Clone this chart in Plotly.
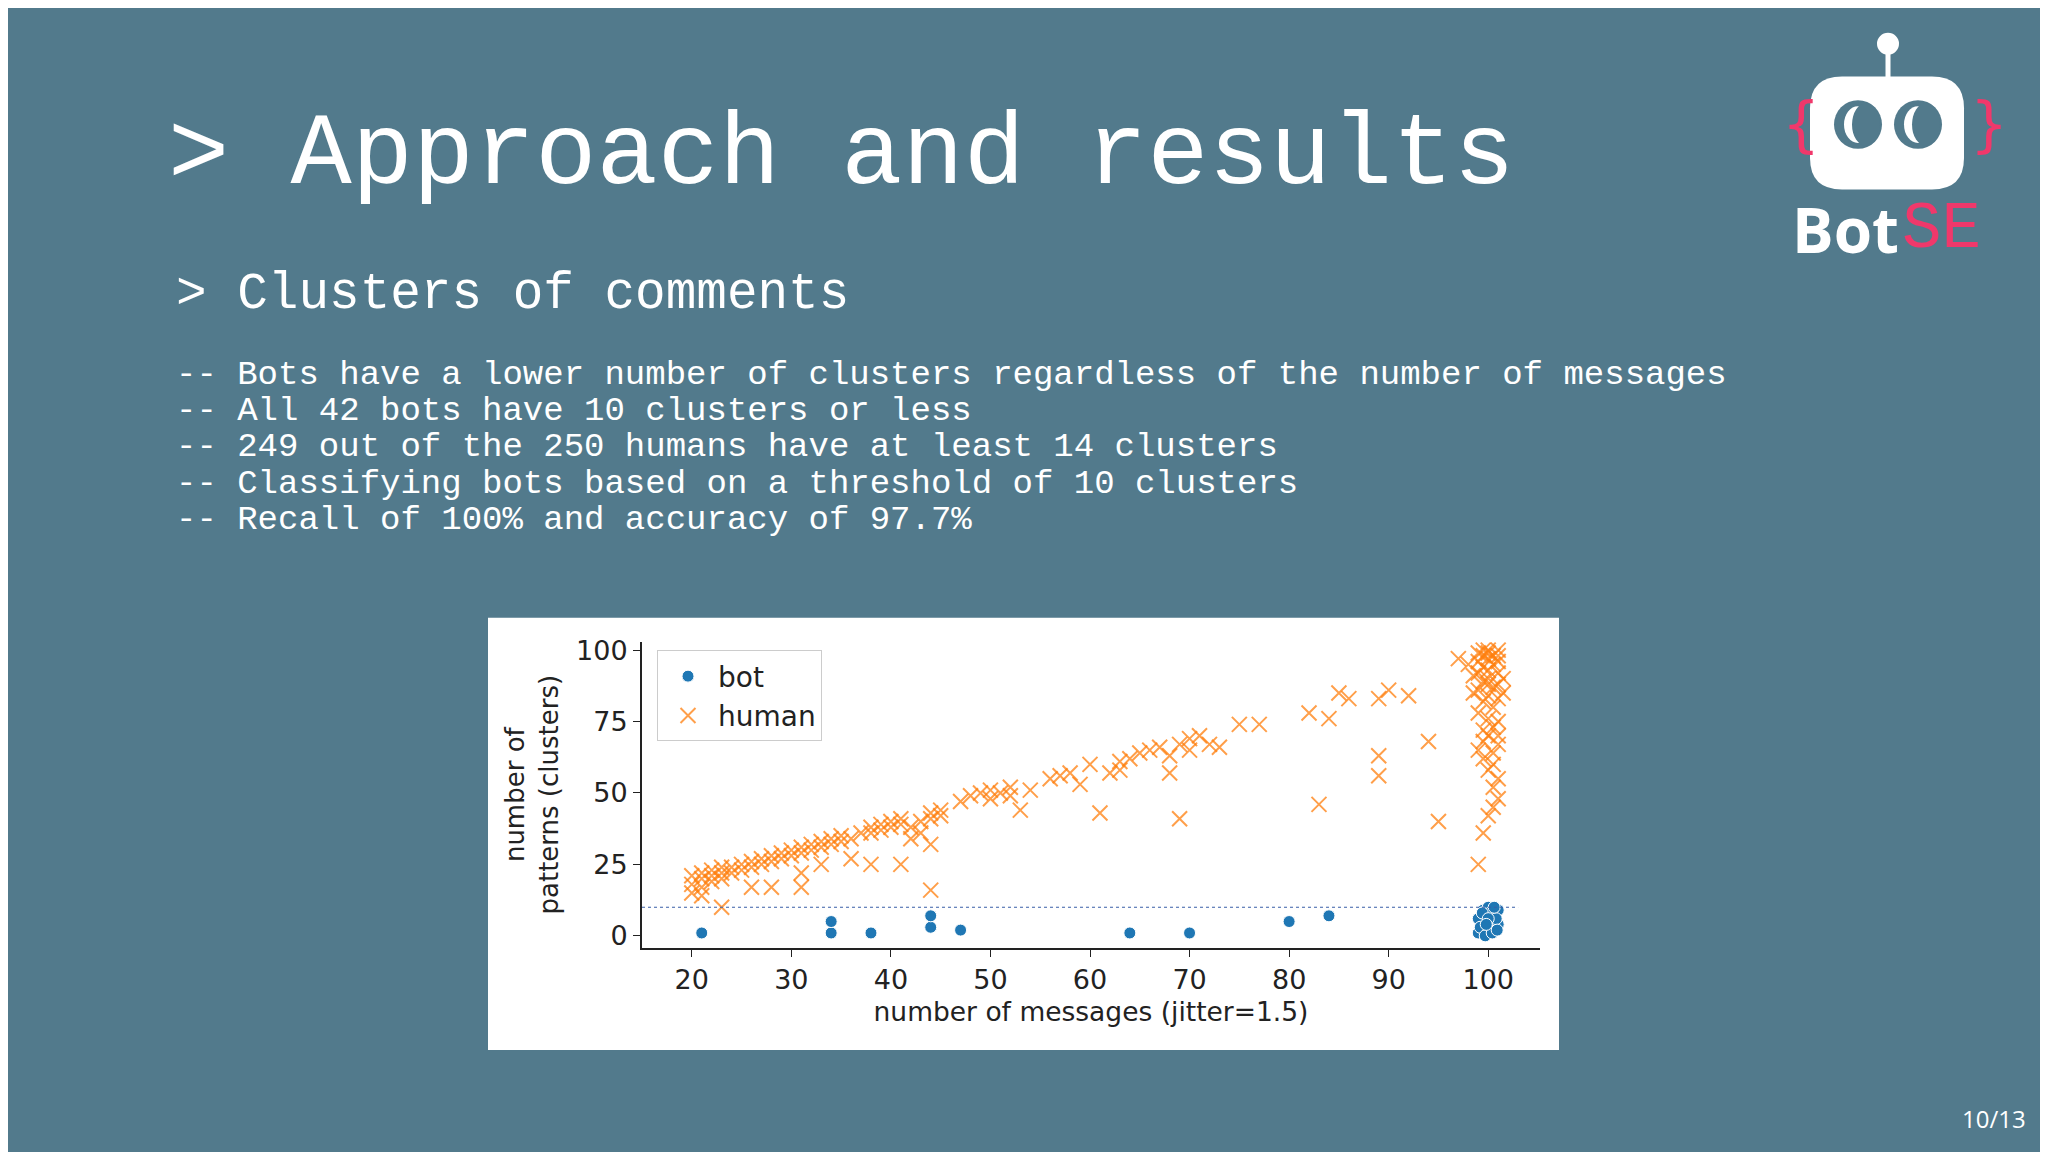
import plotly.graph_objects as go

W, H = 2048, 1152
BG = "#527a8c"
OFF = 8  # page body offset compensation

bot_x = [21, 34, 34, 38, 44, 44, 47, 64, 70, 80, 84,
         99, 99.5, 100, 100.5, 101, 99, 99.5, 100, 100.5, 101, 99.2, 100.2, 100.8, 99.7, 100.4, 99.4, 100.9, 100, 99.8, 100.6]
bot_y = [1, 1, 5, 1, 3, 7, 2, 1, 1, 5, 7,
         1, 3, 5, 7, 9, 6, 9, 10, 2, 4, 3, 8, 6, 0, 1, 8, 2, 6, 4, 10]

human_x = [20, 20, 20, 21, 21, 21, 22, 22, 22, 23, 23, 23, 24, 24, 25, 25, 26, 26, 27, 27, 28, 28, 29, 29, 30, 30,
           31, 31, 32, 32, 33, 33, 34, 34, 35, 35, 36, 37, 38, 38, 39, 39, 40, 40, 41, 41, 42, 43, 44, 44, 45, 45,
           21, 23, 26, 28, 31, 31, 33, 36, 38, 41, 43, 44, 44, 42,
           47, 48, 49, 50, 50, 51, 52, 52, 53, 54, 56, 57, 58, 59, 60, 61, 62, 63, 63, 64, 65, 66, 67, 68, 68, 69,
           69, 70, 70, 71, 72, 73, 75, 77, 82, 84, 83, 85, 86, 89, 89, 89, 90, 92, 94, 95, 97,
           99, 99.5, 100, 100.5, 101, 100.5, 101, 100, 99.5, 100.5, 99, 101, 100, 99.5, 100.5, 101, 100, 99, 100.5,
           99.5, 101, 100, 99, 100.5, 101, 99.5, 100, 98.5, 101, 100, 99.5, 100.5, 99, 101, 100, 99.5, 100.5, 99,
           100, 101, 100, 99.5, 98, 101.5, 98.5, 101.5, 99, 101, 100, 99.5, 100.5, 101]
human_y = [15, 18, 21, 17, 20, 22, 19, 21, 23, 20, 22, 24, 22, 24, 23, 25, 24, 26, 25, 27, 26, 28, 27, 29, 28, 30,
           29, 31, 30, 32, 31, 33, 32, 34, 33, 35, 34, 36, 36, 38, 37, 39, 38, 40, 39, 41, 38, 40, 41, 43, 42, 44,
           14, 10, 17, 17, 17, 22, 25, 27, 25, 25, 36, 32, 16, 34,
           47, 49, 50, 48, 51, 50, 49, 52, 44, 51, 55, 56, 57, 53, 60, 43, 57, 58, 61, 62, 64, 65, 66, 57, 63, 41,
           67, 65, 69, 70, 67, 66, 74, 74, 78, 76, 46, 85, 83, 83, 63, 56, 86, 84, 68, 40, 97,
           25, 36, 42, 45, 48, 52, 55, 58, 62, 64, 65, 67, 70, 72, 73, 75, 76, 78, 80,
           82, 83, 84, 86, 87, 88, 89, 90, 91, 92, 93, 94, 95, 96, 96, 97, 98, 98, 99,
           99, 100, 100, 100, 95, 90, 85, 85, 92, 98, 88, 68, 60, 70]

x_ticks = [20, 30, 40, 50, 60, 70, 80, 90, 100]
y_ticks = [0, 25, 50, 75, 100]
threshold = 10

bullets = [
    "-- Bots have a lower number of clusters regardless of the number of messages",
    "-- All 42 bots have 10 clusters or less",
    "-- 249 out of the 250 humans have at least 14 clusters",
    "-- Classifying bots based on a threshold of 10 clusters",
    "-- Recall of 100% and accuracy of 97.7%",
]

fig = go.Figure()
fig.add_trace(go.Scatter(x=bot_x, y=bot_y, mode="markers", name="bot",
                         marker=dict(symbol="circle", size=12, color="#1f77b4",
                                     line=dict(color="white", width=1))))
fig.add_trace(go.Scatter(x=human_x, y=human_y, mode="markers", name="human",
                         marker=dict(symbol="x-thin-open", size=15, color="rgba(255,127,14,0.75)",
                                     line=dict(color="rgba(255,127,14,0.75)", width=2))))

def px(x): return (x - OFF) / W
def py(y): return 1 - (y - OFF) / H

def rrect(x0, y0, x1, y1, r):
    X0, X1 = px(x0), px(x1)
    Y0, Y1 = py(y0), py(y1)
    rx, ry = r / W, r / H
    return (f"M{X0+rx},{Y0} L{X1-rx},{Y0} Q{X1},{Y0} {X1},{Y0-ry} L{X1},{Y1+ry} "
            f"Q{X1},{Y1} {X1-rx},{Y1} L{X0+rx},{Y1} Q{X0},{Y1} {X0},{Y1+ry} L{X0},{Y0-ry} Q{X0},{Y0} {X0+rx},{Y0} Z")

shapes = [
    dict(type="rect", xref="paper", yref="paper", x0=px(488), x1=px(1559), y0=py(1052), y1=py(616),
         fillcolor="white", line=dict(width=0), layer="below"),
    dict(type="line", xref="x", yref="y", x0=15, x1=103, y0=threshold, y1=threshold,
         line=dict(color="#3a5fa8", width=1.2, dash="dot")),
    dict(type="line", xref="paper", yref="paper", x0=px(1888), x1=px(1888), y0=py(40), y1=py(75),
         line=dict(color="white", width=5)),
    dict(type="circle", xref="paper", yref="paper", x0=px(1877), x1=px(1899), y0=py(48), y1=py(26),
         fillcolor="white", line=dict(width=0)),
    dict(type="path", xref="paper", yref="paper", path=rrect(1810, 70, 1964, 184, 32),
         fillcolor="white", line=dict(width=0)),
    dict(type="circle", xref="paper", yref="paper", x0=px(1834), x1=px(1882), y0=py(143), y1=py(94),
         fillcolor=BG, line=dict(width=0)),
    dict(type="circle", xref="paper", yref="paper", x0=px(1894), x1=px(1942), y0=py(143), y1=py(94),
         fillcolor=BG, line=dict(width=0)),
    dict(type="circle", xref="paper", yref="paper", x0=px(1844), x1=px(1872), y0=py(137), y1=py(100),
         fillcolor="white", line=dict(width=0)),
    dict(type="circle", xref="paper", yref="paper", x0=px(1904), x1=px(1932), y0=py(137), y1=py(100),
         fillcolor="white", line=dict(width=0)),
    dict(type="circle", xref="paper", yref="paper", x0=px(1852), x1=px(1880), y0=py(140), y1=py(97),
         fillcolor=BG, line=dict(width=0)),
    dict(type="circle", xref="paper", yref="paper", x0=px(1912), x1=px(1940), y0=py(140), y1=py(97),
         fillcolor=BG, line=dict(width=0)),
]

mono = "Liberation Mono"
ann = [
    dict(text="> Approach and results", x=px(166), y=py(150), font=dict(family=mono, size=102, color="white")),
    dict(text="> Clusters of comments", x=px(174), y=py(290), font=dict(family=mono, size=51, color="white")),
]
for i, b in enumerate(bullets):
    ann.append(dict(text=b, x=px(174), y=py(371 + i * 36.6), font=dict(family=mono, size=34, color="white")))
ann += [
    dict(text="10/13", x=px(1960), y=py(1121), font=dict(family="Open Sans", size=24, color="white")),
    dict(text="<b>Bot</b>", x=px(1790), y=py(224), font=dict(family="Open Sans", size=62, color="white")),
    dict(text="SE", x=px(1900), y=py(224), font=dict(family=mono, size=66, color="#f0386b")),
    dict(text="{", x=px(1780), y=py(118), font=dict(family="DejaVu Sans", size=60, color="#f0386b")),
    dict(text="}", x=px(1968), y=py(118), font=dict(family="DejaVu Sans", size=60, color="#f0386b")),
]
for a in ann:
    a.update(xref="paper", yref="paper", xanchor="left", yanchor="middle", showarrow=False)

axis_common = dict(showline=True, linecolor="#222", linewidth=2, ticks="outside", ticklen=7,
                   tickcolor="#222", showgrid=False, zeroline=False,
                   tickfont=dict(family="DejaVu Sans", size=27, color="#222"))
fig.update_layout(
    width=W, height=H, margin=dict(l=0, r=0, t=0, b=0),
    paper_bgcolor=BG, plot_bgcolor="white",
    shapes=shapes, annotations=ann,
    xaxis=dict(domain=[px(642), px(1540)], range=[15, 105.2], tickvals=x_ticks,
               title=dict(text="number of messages (jitter=1.5)", font=dict(family="DejaVu Sans", size=26.5, color="#222"), standoff=8),
               **axis_common),
    yaxis=dict(domain=[py(949), py(640)], range=[-4.2, 103], tickvals=y_ticks,
               title=dict(text="number of<br>patterns (clusters)", font=dict(family="DejaVu Sans", size=26, color="#222"), standoff=10),
               **axis_common),
    legend=dict(x=px(657), y=py(649), xanchor="left", yanchor="top", bgcolor="white",
                bordercolor="#ccc", borderwidth=1, itemwidth=50, tracegroupgap=8,
                font=dict(family="DejaVu Sans", size=28, color="#222")),
    showlegend=True,
)
fig.write_html("out.html")
